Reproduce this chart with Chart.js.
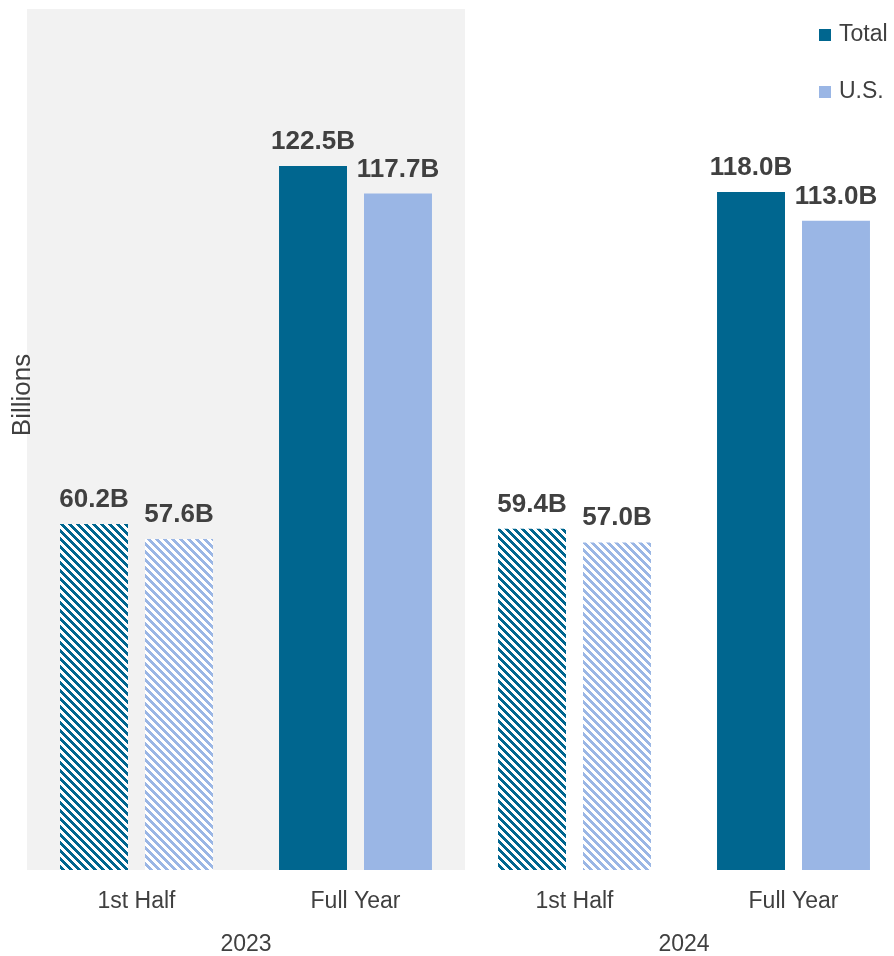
<!DOCTYPE html>
<html>
<head>
<meta charset="utf-8">
<script src="https://cdn.jsdelivr.net/npm/chart.js@4.4.1/dist/chart.umd.min.js"></script>
<style>
  html, body { margin: 0; padding: 0; background: #fff; overflow: hidden; }
  #wrap { position: relative; width: 903px; height: 956px; }
</style>
</head>
<body>
<div id="wrap"><canvas id="chart" width="903" height="956"></canvas></div>
<script>
'use strict';

// --- Data ---
const periods = ["1st Half", "Full Year", "1st Half", "Full Year"];
const years = ["2023", "2024"];
const seriesNames = ["Total", "U.S."];
const totalValues = [60.2, 122.5, 59.4, 118.0];
const usValues = [57.6, 117.7, 57.0, 113.0];
const halfYear = [true, false, true, false]; // 1st half bars are hatched

// --- Styles ---
const TOTAL_COLOR = "#00668F";
const US_COLOR = "#9AB6E5";
const TEXT_COLOR = "#404040";
const FONT = "'Liberation Sans', Arial, sans-serif";

Chart.defaults.font.family = FONT;
Chart.defaults.color = TEXT_COLOR;

// wide diagonal stripes, top-left to bottom-right
function stripes(color) {
  const n = 8;
  const c = document.createElement("canvas");
  c.width = n; c.height = n;
  const g = c.getContext("2d");
  g.fillStyle = "#fff";
  g.fillRect(0, 0, n, n);
  g.fillStyle = color;
  for (let y = 0; y < n; y++) {
    for (let x = 0; x < n; x++) {
      if (((x - y) % n + n) % n < 4) g.fillRect(x, y, 1, 1);
    }
  }
  return document.getElementById("chart").getContext("2d").createPattern(c, "repeat");
}

const totalFill = halfYear.map(h => h ? stripes(TOTAL_COLOR) : TOTAL_COLOR);
const usFill = halfYear.map(h => h ? stripes(US_COLOR) : US_COLOR);

// --- Plugins ---
const backdrop = {
  id: "backdrop",
  beforeDatasetsDraw(chart) {
    const { ctx, chartArea, scales } = chart;
    const right = scales.x.getPixelForValue(1.5);
    ctx.save();
    ctx.fillStyle = "#F2F2F2";
    ctx.fillRect(chartArea.left, chartArea.top + 1, right - chartArea.left, chartArea.bottom - chartArea.top - 1);
    ctx.restore();
  }
};

const valueLabels = {
  id: "valueLabels",
  afterDatasetsDraw(chart) {
    const { ctx } = chart;
    ctx.save();
    ctx.font = "bold 26px " + FONT;
    ctx.fillStyle = TEXT_COLOR;
    ctx.textAlign = "center";
    ctx.textBaseline = "alphabetic";
    chart.data.datasets.forEach((ds, i) => {
      chart.getDatasetMeta(i).data.forEach((bar, j) => {
        ctx.fillText(ds.data[j].toFixed(1) + "B", bar.x, bar.y - 17);
      });
    });
    ctx.restore();
  }
};

const extras = {
  id: "extras",
  afterDraw(chart) {
    const { ctx } = chart;
    ctx.save();
    // y axis title
    ctx.translate(23, 395);
    ctx.rotate(-Math.PI / 2);
    ctx.font = "26px " + FONT;
    ctx.fillStyle = TEXT_COLOR;
    ctx.textAlign = "center";
    ctx.textBaseline = "middle";
    ctx.fillText("Billions", 0, 0);
    ctx.restore();

    // legend, top right
    ctx.save();
    ctx.font = "23px " + FONT;
    ctx.textBaseline = "middle";
    [TOTAL_COLOR, US_COLOR].forEach((col, i) => {
      const y = 35 + i * 57;
      ctx.fillStyle = col;
      ctx.fillRect(819, y - 6, 12, 12);
      ctx.fillStyle = TEXT_COLOR;
      ctx.fillText(seriesNames[i], 839, y);
    });
    ctx.restore();
  }
};

// --- Chart ---
const ctx = document.getElementById("chart").getContext("2d");
new Chart(ctx, {
  type: "bar",
  data: {
    labels: periods,
    datasets: [
      { label: seriesNames[0], data: totalValues, backgroundColor: totalFill, xAxisID: "x" },
      { label: seriesNames[1], data: usValues, backgroundColor: usFill, xAxisID: "x" }
    ]
  },
  options: {
    responsive: false,
    animation: false,
    categoryPercentage: 0.776,
    barPercentage: 0.8,
    layout: { padding: { top: 8, right: 0, bottom: 0, left: 0 } },
    plugins: { legend: { display: false }, tooltip: { enabled: false } },
    scales: {
      x: {
        type: "category",
        labels: periods,
        grid: { display: false, drawTicks: false },
        border: { display: false },
        ticks: { font: { size: 23 }, color: TEXT_COLOR, padding: 18, maxRotation: 0, autoSkip: false },
        afterFit(s) { s.height = 56; }
      },
      x2: {
        type: "category",
        labels: years,
        position: "bottom",
        grid: { display: false, drawTicks: false },
        border: { display: false },
        ticks: { font: { size: 23 }, color: TEXT_COLOR, padding: 5, maxRotation: 0, autoSkip: false },
        afterFit(s) { s.height = 30; }
      },
      y: {
        min: 0,
        max: 150,
        ticks: { display: false },
        grid: { display: false, drawTicks: false },
        border: { display: false },
        afterFit(s) { s.width = 27; }
      }
    }
  },
  plugins: [backdrop, valueLabels, extras]
});
</script>
</body>
</html>
